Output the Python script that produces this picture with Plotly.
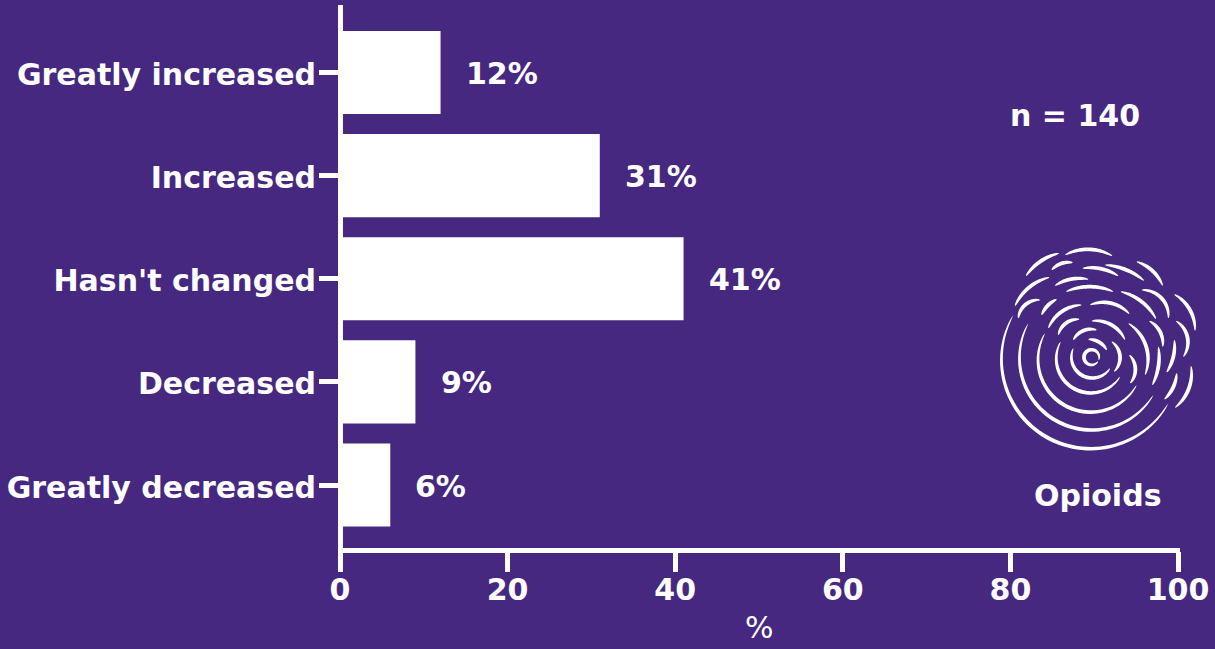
import math
import plotly.graph_objects as go

categories = ["Greatly increased", "Increased", "Hasn't changed", "Decreased", "Greatly decreased"]
percent_values = [12, 31, 41, 9, 6]
percent_labels = ["12%", "31%", "41%", "9%", "6%"]
x_ticks = [0, 20, 40, 60, 80, 100]

BG = "#462880"
FG = "white"
W, H = 1215, 649
ML, MR, MT, MB = 340, 37, 5, 98
FONT = "DejaVu Sans"
SIZE = 30

# Logo: tapered arcs (start, middle, end) in logo pixels x3, offset from (990, 240)
LOGO_ARCS = [
    ((324,364),(282,350),(326,360)), ((295,298),(330,308),(350,330)),
    ((250,300),(280,272),(320,270)), ((250,325),(262,395),(360,385)),
    ((365,305),(390,350),(372,395)), ((212,305),(240,438),(390,410)),
    ((418,345),(436,385),(420,430)), ((205,285),(235,245),(268,238)),
    ((305,243),(365,255),(405,300)), ((175,265),(215,215),(275,195)),
    ((300,195),(365,190),(418,222)), ((155,225),(175,195),(200,178)),
    ((85,235),(105,195),(150,180)), ((75,198),(120,140),(178,112)),
    ((195,137),(240,118),(295,118)), ((228,155),(300,140),(370,155)),
    ((392,155),(455,185),(498,237)), ((415,250),(465,310),(465,405)),
    ((478,243),(510,275),(518,320)), ((455,150),(510,170),(535,235)),
    ((553,163),(600,210),(615,272)), ((558,243),(592,290),(580,350)),
    ((553,300),(550,350),(530,397)), ((505,320),(505,380),(487,435)),
    ((165,280),(190,470),(440,435)), ((115,250),(150,505),(490,465)),
    ((70,225),(110,545),(535,490)), ((523,478),(548,445),(560,400)),
    ((555,503),(590,460),(603,378)), ((108,108),(150,65),(207,40)),
    ((225,45),(295,28),(367,48)), ((185,90),(210,72),(248,68)),
    ((278,85),(340,88),(385,108)), ((345,75),(410,90),(462,122)),
    ((440,65),(490,95),(518,137)),
]


def to_paper(px, py):
    return (px - ML) / (W - ML - MR), 1 - (py - MT) / (H - MT - MB)


def crescent(p0, pm, p2, thick=3.8, n=60):
    (ax, ay), (bx, by), (cx, cy) = p0, pm, p2
    d = 2 * (ax * (by - cy) + bx * (cy - ay) + cx * (ay - by))
    ux = ((ax**2 + ay**2) * (by - cy) + (bx**2 + by**2) * (cy - ay) + (cx**2 + cy**2) * (ay - by)) / d
    uy = ((ax**2 + ay**2) * (cx - bx) + (bx**2 + by**2) * (ax - cx) + (cx**2 + cy**2) * (bx - ax)) / d
    r = math.hypot(ax - ux, ay - uy)
    a0 = math.atan2(ay - uy, ax - ux)
    am = math.atan2(by - uy, bx - ux)
    a2 = math.atan2(cy - uy, cx - ux)
    span_m = (am - a0) % (2 * math.pi)
    span_2 = (a2 - a0) % (2 * math.pi)
    if span_m > span_2:
        span_2 -= 2 * math.pi
    outer, inner = [], []
    for i in range(n + 1):
        t = i / n
        ang = a0 + span_2 * t
        hw = thick * 3 / 2 * math.sin(math.pi * t) ** 0.45
        outer.append((ux + (r + hw) * math.cos(ang), uy + (r + hw) * math.sin(ang)))
        inner.append((ux + (r - hw) * math.cos(ang), uy + (r - hw) * math.sin(ang)))
    pts = outer + inner[::-1]
    parts = []
    for i, (x, y) in enumerate(pts):
        fx, fy = to_paper(990 + x / 3, 240 + y / 3)
        parts.append(f"{'M' if i == 0 else 'L'}{fx:.5f},{fy:.5f}")
    return " ".join(parts) + " Z"


def spine(x0, y0, x1, y1):
    fx0, fy0 = to_paper(x0, y0)
    fx1, fy1 = to_paper(x1, y1)
    return dict(type="rect", xref="paper", yref="paper", x0=fx0, x1=fx1, y0=fy0, y1=fy1,
                fillcolor=FG, line=dict(width=0), layer="above")


fig = go.Figure(go.Bar(
    x=percent_values, y=categories, orientation="h",
    marker=dict(color=FG, line=dict(width=0)), width=0.806,
    hoverinfo="skip",
))

shapes = [spine(338, 5, 343, 553), spine(338, 548, 1180, 553)]
for arc in LOGO_ARCS:
    shapes.append(dict(type="path", xref="paper", yref="paper", path=crescent(*arc),
                       fillcolor=FG, line=dict(width=0), layer="above"))

bold = dict(family=FONT, size=SIZE, color=FG, weight="bold")
nx, ny = to_paper(1075, 116)
ox, oy = to_paper(1098, 495)
px, py = to_paper(759, 627)
annotations = [
    dict(xref="paper", yref="paper", x=nx, y=ny, xanchor="center", yanchor="middle",
         text="n = 140", showarrow=False, font=bold),
    dict(xref="paper", yref="paper", x=ox, y=oy, xanchor="center", yanchor="middle",
         text="Opioids", showarrow=False, font=bold),
    dict(xref="paper", yref="paper", x=px, y=py, xanchor="center", yanchor="middle",
         text="%", showarrow=False, font=dict(family=FONT, size=SIZE, color=FG)),
]
for cat, val, lab in zip(categories, percent_values, percent_labels):
    annotations.append(dict(xref="x", yref="y", x=val + 3, y=cat, xanchor="left", yanchor="middle",
                            xshift=-2, yshift=-1, text=lab, showarrow=False, font=bold))

fig.update_layout(
    width=W, height=H, autosize=False,
    margin=dict(l=ML, r=MR, t=MT, b=MB, pad=0),
    paper_bgcolor=BG, plot_bgcolor=BG, showlegend=False,
    font=dict(family=FONT, color=FG),
    shapes=shapes, annotations=annotations,
    xaxis=dict(range=[0, 100], tickvals=x_ticks, showgrid=False, zeroline=False, showline=False,
               ticks="outside", ticklen=20, tickwidth=5, tickcolor=FG,
               ticklabelstandoff=-8, tickfont=bold),
    yaxis=dict(type="category", categoryorder="array", categoryarray=categories[::-1],
               range=[-0.64, 4.655], showgrid=False, zeroline=False, showline=False,
               ticks="outside", ticklen=20, tickwidth=5, tickcolor=FG,
               ticklabelstandoff=-3, ticklabelshift=2, tickfont=bold),
)

fig.write_html("out.html", config=dict(displayModeBar=False), post_script=(
    "document.body.style.margin='0';"
    f"document.body.style.background='{BG}';"
    "document.documentElement.style.overflow='hidden';"
))
